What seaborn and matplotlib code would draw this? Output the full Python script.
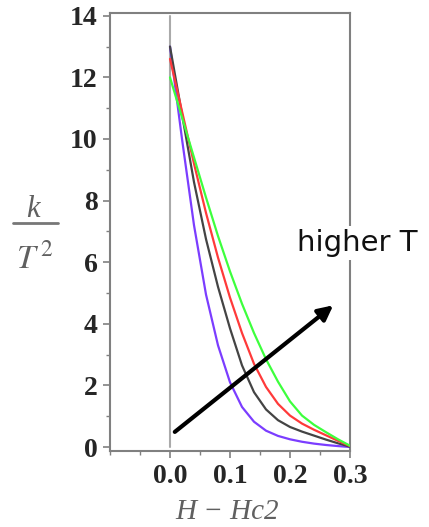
import matplotlib
matplotlib.use('Agg')
import matplotlib.pyplot as plt
import seaborn as sns
import pandas as pd
from matplotlib.ticker import MultipleLocator
from matplotlib.lines import Line2D

# field above Hc2
h = [0.0, 0.02, 0.04, 0.06, 0.08, 0.10, 0.12, 0.14, 0.16, 0.18, 0.20, 0.22, 0.24, 0.26, 0.28, 0.30]

# k / T^2 for four temperatures (lowest to highest)
k_t1 = [13.0, 10.0, 7.2, 4.95, 3.3, 2.1, 1.3, 0.82, 0.53, 0.36, 0.25, 0.17, 0.11, 0.065, 0.03, 0.0]
k_t2 = [13.0, 10.8, 8.6, 6.75, 5.2, 3.85, 2.65, 1.78, 1.22, 0.87, 0.65, 0.50, 0.37, 0.24, 0.12, 0.01]
k_t3 = [12.6, 10.9, 9.2, 7.6, 6.15, 4.85, 3.7, 2.7, 1.95, 1.4, 1.02, 0.76, 0.56, 0.38, 0.20, 0.03]
k_t4 = [12.0, 10.7, 9.4, 8.1, 6.85, 5.7, 4.65, 3.7, 2.85, 2.12, 1.48, 1.02, 0.72, 0.48, 0.25, 0.04]

labels = ['T1', 'T2', 'T3', 'T4']
colors = ['#7b3dff', '#444444', '#ff3a3a', '#3dff3d']

frames = []
for lab, vals in zip(labels, [k_t1, k_t2, k_t3, k_t4]):
    frames.append(pd.DataFrame({'h': h, 'k': vals, 'T': lab}))
df = pd.concat(frames)

sns.set_style('ticks')
plt.rcParams['mathtext.fontset'] = 'stix'

W, H = 429, 527
fig = plt.figure(figsize=(W / 100, H / 100), dpi=100)
ax = fig.add_axes([0.2564, 0.1442, 0.5595, 0.8311])

# vertical line at Hc2
ax.plot([0, 0], [0, 14], color='#aaaaaa', lw=1.5, zorder=1)

sns.lineplot(data=df, x='h', y='k', hue='T', palette=colors, lw=1.6,
             legend=False, ax=ax, zorder=3)

ax.set_xlim(-0.1, 0.3)
ax.set_ylim(-0.13, 14.09)
ax.set_xticks([0.0, 0.1, 0.2, 0.3])
ax.set_xticklabels(['0.0', '0.1', '0.2', '0.3'])
ax.set_yticks(range(0, 15, 2))
ax.xaxis.set_minor_locator(MultipleLocator(0.05))
ax.yaxis.set_minor_locator(MultipleLocator(1))

for sp in ax.spines.values():
    sp.set_color('#808080')
    sp.set_linewidth(1.5)

ax.tick_params(axis='both', which='major', length=5, width=1.2, color='#808080',
               labelsize=20, pad=4)
ax.tick_params(axis='both', which='minor', length=3, width=1.0, color='#808080')
for t in ax.get_xticklabels() + ax.get_yticklabels():
    t.set_fontfamily('Liberation Serif')
    t.set_fontweight('bold')

ax.set_xlabel('H − Hc2', fontsize=21, color='#606060',
              family='Liberation Serif', style='italic', va='baseline')
ax.xaxis.set_label_coords(0.49, -0.156)

# y label drawn as a stacked fraction k / T^2
ax.set_ylabel('')
fig.text(32.7 / W, 1 - 217 / H, 'k', fontsize=22, color='#606060',
         family='Liberation Serif', style='italic', ha='center', va='baseline')
fig.text(35 / W, 1 - 268 / H, r'$T^{\,2}$', fontsize=24, color='#606060',
         ha='center', va='baseline')
fig.add_artist(Line2D([12.7 / W, 58.3 / W], [1 - 223.3 / H, 1 - 223.3 / H],
                      color='#777777', lw=2, transform=fig.transFigure))

# arrow toward higher temperature
ax.annotate('', xy=(0.272, 4.6), xytext=(0.008, 0.49),
            arrowprops=dict(arrowstyle='-|>', color='black', lw=3,
                            mutation_scale=22, shrinkA=0, shrinkB=0), zorder=5)

ax.text(0.212, 6.62, 'higher T', fontsize=21, family='DejaVu Sans', color='#111111',
        va='center', ha='left', clip_on=False, zorder=6,
        bbox=dict(facecolor='white', edgecolor='none', pad=2))

fig.savefig('out.png', dpi=100)
